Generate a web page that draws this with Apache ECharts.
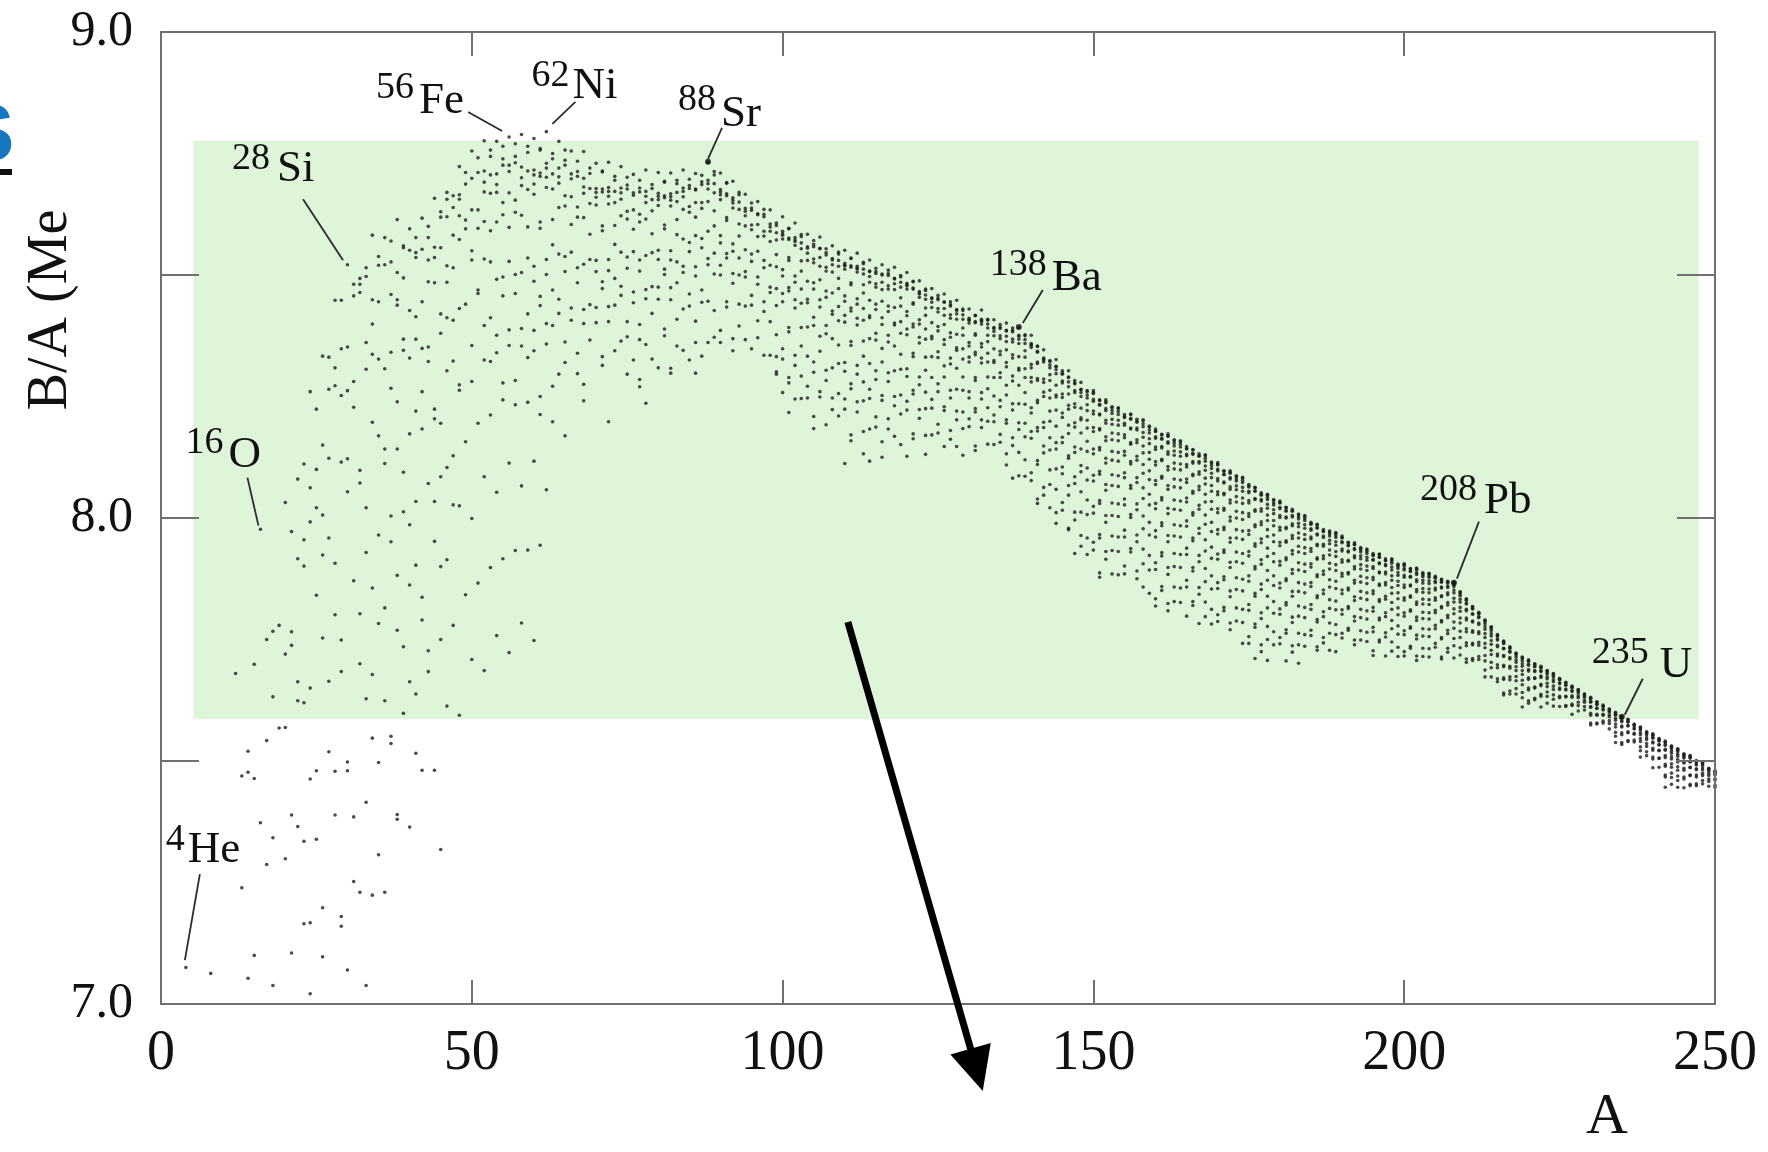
<!DOCTYPE html>
<html><head><meta charset="utf-8">
<script src="https://cdn.jsdelivr.net/npm/echarts@6/dist/echarts.min.js"></script>
<style>html,body{margin:0;padding:0;background:#fff}#c{width:1768px;height:1152px}</style>
</head><body><div id="c"></div>
<script>
// ---------- data (B/A in MeV per nucleon, A = mass number) ----------
const xTickValues=[0,50,100,150,200,250];
const yTickLabels=[7.0,8.0,9.0];
const lightNuclei=[[4,7.075],[8,7.063],[12,7.680],[13,7.469],[13,7.239],[14,7.520],[14,7.477],[14,7.053],[15,7.699],[15,7.464],[15,7.100],[16,7.977],[16,7.373],[17,7.750],[17,7.542],[17,7.287],[18,7.767],[18,7.632],[18,7.342],[18,7.038],[19,7.779],[19,7.568],[20,8.032],[20,7.720],[20,7.569],[20,7.299],[21,7.972],[21,7.766],[21,7.738],[21,7.389],[21,7.105],[22,8.080],[22,7.916],[22,7.663],[22,7.624],[22,7.365],[23,8.111],[23,7.955],[23,7.901],[23,7.620],[23,7.335],[23,7.165],[24,8.260],[24,8.062],[24,7.992],[24,7.650],[24,7.463],[24,7.167],[24,7.021],[25,8.224],[25,8.100],[25,8.021],[25,7.841],[25,7.480],[25,7.339],[26,8.333],[26,8.150],[26,8.006],[26,7.924],[26,7.753],[26,7.198],[26,7.097],[27,8.331],[27,8.265],[27,8.123],[27,7.959],[27,7.664],[27,7.519],[28,8.448],[28,8.309],[28,8.272],[28,7.907],[28,7.801],[28,7.479],[28,7.389],[29,8.448],[29,8.348],[29,8.252],[29,8.115],[29,7.749],[29,7.684],[29,7.180],[29,7.160],[30,8.521],[30,8.352],[30,8.262],[30,8.122],[30,8.054],[30,7.498],[30,7.480],[30,7.070],[31,8.481],[31,8.457],[31,8.281],[31,8.228],[31,7.871],[31,7.385],[31,7.252],[32,8.493],[32,8.481],[32,8.464],[32,8.098],[32,8.072],[32,7.803],[32,7.700],[32,7.230],[33,8.515],[33,8.497],[33,8.361],[33,8.306],[33,8.021],[33,7.929],[33,7.628],[33,7.415],[33,7.038],[34,8.582],[34,8.449],[34,8.399],[34,8.337],[34,8.197],[34,7.856],[34,7.678],[34,7.547],[34,7.224],[35,8.538],[35,8.520],[35,8.445],[35,8.327],[35,8.169],[35,7.965],[35,7.783],[35,7.497],[35,7.307],[36,8.577],[36,8.521],[36,8.307],[36,8.142],[36,8.112],[36,7.815],[36,7.624],[36,7.230],[37,8.570],[37,8.527],[37,8.460],[37,8.341],[37,8.267],[37,8.004],[37,7.951],[37,7.551],[37,7.536],[38,8.614],[38,8.505],[38,8.449],[38,8.438],[38,8.239],[38,8.142],[38,7.882],[38,7.769],[38,7.390],[38,7.380],[39,8.560],[39,8.556],[39,8.494],[39,8.368],[39,8.345],[39,8.094],[39,8.013],[39,7.735],[39,7.598],[40,8.595],[40,8.551],[40,8.427],[40,8.329],[40,8.173],[40,7.986],[40,7.862],[40,7.663],[40,7.364],[41,8.577],[41,8.546],[41,8.536],[41,8.414],[41,8.368],[41,8.220],[41,8.034],[41,7.903],[41,7.638],[41,7.516],[42,8.617],[42,8.553],[42,8.445],[42,8.349],[42,8.260],[42,8.183],[42,7.837],[42,7.790],[42,7.481],[43,8.600],[43,8.577],[43,8.531],[43,8.486],[43,8.352],[43,8.322],[43,8.071],[43,7.727],[43,7.684],[44,8.658],[44,8.557],[44,8.536],[44,8.484],[44,8.224],[44,8.204],[44,8.034],[44,7.952],[44,7.481],[45,8.630],[45,8.619],[45,8.556],[45,8.420],[45,8.380],[45,8.195],[45,8.085],[45,7.900],[45,7.750],[45,7.318],[46,8.670],[46,8.656],[46,8.620],[46,8.519],[46,8.485],[46,8.412],[46,8.303],[46,8.104],[46,7.914],[46,7.613],[47,8.663],[47,8.639],[47,8.582],[47,8.515],[47,8.407],[47,8.323],[47,8.128],[47,8.027],[47,7.779],[48,8.723],[48,8.665],[48,8.656],[48,8.622],[48,8.573],[48,8.431],[48,8.274],[48,8.263],[48,8.025],[48,7.594],[49,8.711],[49,8.687],[49,8.613],[49,8.595],[49,8.440],[49,8.157],[49,7.842],[50,8.755],[50,8.699],[50,8.634],[50,8.550],[50,8.531],[50,8.355],[50,8.281],[50,7.999],[50,7.709],[51,8.741],[51,8.711],[51,8.634],[51,8.596],[51,8.469],[51,8.462],[51,8.195],[51,7.866],[52,8.776],[52,8.714],[52,8.691],[52,8.671],[52,8.610],[52,8.533],[52,8.396],[52,8.325],[52,8.085],[52,7.686]];
const sparseMediumNuclei=[[53,8.212],[55,8.243],[57,8.233],[59,8.238],[61,8.213],[63,8.198],[65,8.169],[56,8.113],[60,8.117],[54,8.053],[58,8.066],[62,8.058],[53,7.898],[55,7.916],[57,7.933],[59,7.934],[61,7.944],[54,7.758],[56,7.723],[58,7.784],[60,7.748],[68,8.241],[72,8.198],[75,8.296],[77,8.285],[77,8.270],[78,8.236],[82,8.298],[86,8.298],[99,8.296],[99,8.301],[101,8.217]];
// each row: [A, B/A of the isobars read for that A ...]
const isobarsMedium=[
[53,8.757,8.744,8.706,8.668,8.591,8.527,8.412,8.322],
[54,8.775,8.708,8.670,8.686,8.609,8.491,8.376,8.340],
[55,8.765,8.739,8.726,8.649,8.624,8.496,8.457,8.278],
[56,8.784,8.726,8.669,8.713,8.598,8.528,8.355,8.387],
[57,8.770,8.744,8.731,8.654,8.629,8.501,8.462,8.283],
[58,8.789,8.722,8.684,8.700,8.623,8.505,8.390,8.354],
[59,8.765,8.752,8.714,8.676,8.599,8.535,8.420,8.330],
[60,8.781,8.716,8.706,8.687,8.666,8.518,8.487,8.386,8.344],
[61,8.760,8.757,8.710,8.703,8.609,8.596,8.456,8.437,8.250],
[62,8.795,8.730,8.720,8.701,8.680,8.532,8.501,8.400,8.358],
[63,8.750,8.739,8.708,8.677,8.614,8.562,8.469,8.396,8.271],
[64,8.775,8.720,8.689,8.702,8.639,8.543,8.450,8.421,8.296],
[65,8.757,8.736,8.726,8.663,8.642,8.538,8.507,8.362,8.320],
[66,8.755,8.708,8.661,8.698,8.604,8.547,8.407,8.432],
[67,8.734,8.713,8.703,8.640,8.619,8.515,8.484,8.339,8.297],
[68,8.754,8.699,8.668,8.681,8.618,8.522,8.429,8.400,8.275],
[69,8.720,8.709,8.678,8.647,8.584,8.532,8.439,8.366],
[70,8.730,8.678,8.670,8.660,8.644,8.530,8.507,8.433,8.402],
[71,8.714,8.712,8.677,8.671,8.601,8.591,8.486,8.472,8.332,8.314],
[72,8.732,8.680,8.672,8.662,8.646,8.532,8.509,8.435,8.404],
[73,8.703,8.695,8.672,8.649,8.602,8.563,8.493,8.438,8.344],
[74,8.723,8.679,8.656,8.669,8.622,8.547,8.477,8.458,8.364],
[75,8.701,8.685,8.677,8.631,8.615,8.537,8.514,8.404,8.373],
[76,8.707,8.669,8.634,8.664,8.594,8.548,8.443,8.465,8.325],
[77,8.695,8.679,8.671,8.625,8.609,8.531,8.508,8.398,8.367],
[78,8.716,8.672,8.649,8.662,8.615,8.540,8.470,8.451,8.357],
[79,8.686,8.678,8.655,8.632,8.585,8.546,8.476,8.421,8.327],
[80,8.711,8.668,8.662,8.655,8.643,8.551,8.532,8.475,8.450,8.309],
[81,8.693,8.691,8.663,8.659,8.603,8.595,8.512,8.501,8.389,8.375],
[82,8.710,8.667,8.661,8.654,8.642,8.550,8.531,8.474,8.449,8.308],
[83,8.695,8.688,8.670,8.651,8.614,8.583,8.527,8.484,8.409,8.354],
[84,8.716,8.679,8.661,8.672,8.635,8.574,8.518,8.505,8.430,8.345],
[85,8.697,8.684,8.678,8.641,8.629,8.567,8.548,8.461,8.436,8.325],
[86,8.709,8.677,8.649,8.675,8.619,8.581,8.498,8.517,8.405,8.361],
[87,8.705,8.692,8.686,8.649,8.637,8.575,8.556,8.469,8.444,8.333],
[88,8.732,8.695,8.677,8.688,8.651,8.590,8.534,8.521,8.446,8.361],
[89,8.713,8.706,8.688,8.669,8.632,8.601,8.545,8.502,8.427,8.372],
[90,8.710,8.676,8.671,8.665,8.655,8.581,8.566,8.520,8.500,8.386,8.361],
[91,8.690,8.689,8.667,8.663,8.618,8.612,8.544,8.535,8.445,8.434],
[92,8.693,8.659,8.654,8.648,8.638,8.564,8.549,8.503,8.483,8.369,8.344],
[93,8.670,8.665,8.650,8.635,8.605,8.580,8.535,8.500,8.440,8.395],
[94,8.666,8.637,8.622,8.631,8.601,8.552,8.507,8.496,8.436,8.367],
[95,8.648,8.638,8.633,8.603,8.593,8.543,8.528,8.458,8.438,8.348],
[96,8.651,8.626,8.604,8.624,8.579,8.549,8.481,8.496,8.406,8.371],
[97,8.635,8.625,8.620,8.590,8.580,8.530,8.515,8.445,8.425,8.335],
[98,8.634,8.605,8.590,8.599,8.569,8.520,8.475,8.464,8.404,8.335],
[99,8.607,8.602,8.587,8.572,8.542,8.517,8.472,8.437,8.377,8.332],
[100,8.620,8.590,8.585,8.582,8.574,8.511,8.498,8.462,8.445,8.348,8.327,8.258],
[101,8.596,8.595,8.576,8.573,8.536,8.530,8.474,8.467,8.392,8.383,8.289,8.278],
[102,8.607,8.577,8.572,8.569,8.561,8.498,8.485,8.449,8.432,8.335,8.314,8.245],
[103,8.583,8.579,8.566,8.554,8.529,8.508,8.471,8.442,8.392,8.354,8.292,8.246],
[104,8.584,8.558,8.545,8.555,8.530,8.487,8.450,8.443,8.393,8.333,8.271,8.247],
[105,8.571,8.563,8.558,8.533,8.525,8.484,8.471,8.413,8.396,8.321,8.300,8.209,8.184],
[106,8.578,8.555,8.536,8.554,8.518,8.490,8.434,8.449,8.374,8.343,8.249,8.260],
[107,8.554,8.546,8.541,8.516,8.508,8.467,8.454,8.396,8.379,8.304,8.283,8.192],
[108,8.560,8.534,8.521,8.531,8.506,8.463,8.426,8.419,8.369,8.309,8.247,8.223],
[109,8.547,8.543,8.530,8.518,8.493,8.472,8.435,8.406,8.356,8.318,8.256,8.210],
[110,8.551,8.524,8.520,8.519,8.512,8.457,8.446,8.417,8.403,8.320,8.302,8.245,8.224,8.112],
[111,8.535,8.534,8.519,8.516,8.484,8.480,8.432,8.426,8.363,8.355,8.276,8.266,8.171,8.159],
[112,8.545,8.518,8.514,8.513,8.506,8.451,8.440,8.411,8.397,8.314,8.296,8.239,8.218],
[113,8.526,8.523,8.512,8.502,8.480,8.463,8.431,8.407,8.364,8.333,8.280,8.241,8.178,8.132],
[114,8.531,8.508,8.497,8.507,8.485,8.448,8.416,8.412,8.369,8.318,8.265,8.246,8.183,8.117],
[115,8.514,8.507,8.503,8.482,8.475,8.440,8.429,8.380,8.366,8.303,8.285,8.208,8.187],
[116,8.521,8.500,8.485,8.502,8.470,8.446,8.398,8.412,8.349,8.321,8.242,8.252,8.157,8.125],
[117,8.510,8.503,8.499,8.478,8.471,8.436,8.425,8.376,8.362,8.299,8.281,8.204,8.183],
[118,8.516,8.493,8.482,8.492,8.470,8.433,8.401,8.397,8.354,8.303,8.250,8.231,8.168],
[119,8.499,8.496,8.485,8.475,8.453,8.436,8.404,8.380,8.337,8.306,8.253,8.214,8.151],
[120,8.505,8.483,8.480,8.478,8.471,8.425,8.416,8.389,8.377,8.307,8.291,8.240,8.222,8.127],
[121,8.487,8.486,8.473,8.471,8.443,8.440,8.399,8.393,8.339,8.332,8.263,8.255,8.173,8.163],
[122,8.488,8.466,8.463,8.461,8.454,8.408,8.399,8.372,8.360,8.290,8.274,8.223,8.205],
[123,8.471,8.468,8.459,8.450,8.432,8.417,8.389,8.368,8.331,8.304,8.259,8.225,8.170,8.131],
[124,8.472,8.453,8.444,8.451,8.433,8.402,8.374,8.369,8.332,8.289,8.244,8.226,8.171],
[125,8.458,8.452,8.449,8.431,8.424,8.394,8.385,8.342,8.330,8.276,8.260,8.193,8.175],
[126,8.461,8.445,8.431,8.444,8.417,8.398,8.357,8.367,8.313,8.290,8.221,8.229,8.147],
[127,8.445,8.439,8.436,8.418,8.411,8.381,8.372,8.329,8.317,8.263,8.247,8.180,8.162],
[128,8.448,8.429,8.420,8.427,8.409,8.378,8.350,8.345,8.308,8.265,8.220,8.202,8.147],
[129,8.430,8.427,8.418,8.409,8.391,8.376,8.348,8.327,8.290,8.263,8.218,8.184,8.129]];
const isobarsHeavy=[
[130,8.430,8.411,8.408,8.407,8.401,8.361,8.354,8.331,8.321,8.260,8.247,8.204,8.188],
[131,8.417,8.416,8.404,8.402,8.379,8.376,8.341,8.336,8.289,8.283,8.225,8.218,8.148,8.139],
[132,8.428,8.409,8.406,8.405,8.399,8.359,8.352,8.329,8.319,8.258,8.245,8.202,8.186],
[133,8.409,8.407,8.399,8.391,8.376,8.363,8.339,8.321,8.290,8.266,8.227,8.199,8.152],
[134,8.408,8.392,8.384,8.390,8.375,8.348,8.324,8.320,8.289,8.251,8.212,8.198,8.151],
[135,8.398,8.393,8.390,8.375,8.369,8.343,8.336,8.299,8.289,8.242,8.229,8.172,8.156],
[136,8.401,8.386,8.374,8.385,8.363,8.346,8.311,8.320,8.273,8.253,8.195,8.202,8.132,8.109],
[137,8.391,8.386,8.383,8.368,8.362,8.336,8.329,8.292,8.282,8.235,8.222,8.165,8.149,8.082],
[138,8.392,8.376,8.368,8.374,8.359,8.332,8.308,8.304,8.273,8.235,8.196,8.182,8.135,8.087],
[139,8.377,8.375,8.367,8.359,8.344,8.331,8.307,8.289,8.258,8.234,8.195,8.167,8.120,8.086],
[140,8.376,8.359,8.357,8.355,8.351,8.316,8.309,8.289,8.280,8.227,8.216,8.178,8.164,8.093,8.077],
[141,8.354,8.353,8.343,8.341,8.321,8.318,8.287,8.283,8.242,8.237,8.186,8.179,8.118,8.110,8.039,8.030],
[142,8.346,8.329,8.327,8.325,8.321,8.286,8.279,8.259,8.250,8.197,8.186,8.148,8.134,8.063,8.047],
[143,8.324,8.322,8.315,8.309,8.295,8.283,8.263,8.247,8.220,8.199,8.165,8.140,8.099,8.069,8.021],
[144,8.326,8.312,8.305,8.311,8.297,8.273,8.253,8.249,8.222,8.189,8.155,8.142,8.101,8.059,8.011,7.989],
[145,8.303,8.298,8.296,8.282,8.278,8.255,8.248,8.216,8.207,8.166,8.155,8.105,8.091,8.032,8.016],
[146,8.303,8.290,8.280,8.289,8.270,8.255,8.224,8.232,8.191,8.174,8.123,8.128,8.067,8.047,7.976,7.979],
[147,8.283,8.278,8.276,8.262,8.258,8.235,8.228,8.196,8.187,8.146,8.135,8.085,8.071,8.012,7.996,7.927],
[148,8.279,8.265,8.258,8.264,8.250,8.226,8.206,8.202,8.175,8.142,8.108,8.095,8.054,8.012,7.964,7.942],
[149,8.262,8.260,8.253,8.247,8.233,8.221,8.201,8.185,8.158,8.137,8.103,8.078,8.037,8.007,7.959,7.925],
[150,8.262,8.258,8.256,8.244,8.240,8.220,8.214,8.186,8.178,8.142,8.132,8.088,8.076,8.024,8.010,7.950,7.934],
[151,8.243,8.242,8.234,8.232,8.214,8.212,8.184,8.181,8.145,8.140,8.096,8.090,8.036,8.030,7.966,7.959,7.887,7.878],
[152,8.243,8.239,8.237,8.225,8.221,8.201,8.195,8.167,8.159,8.123,8.113,8.069,8.057,8.005,7.991,7.931,7.915],
[153,8.229,8.227,8.221,8.215,8.203,8.193,8.175,8.161,8.137,8.119,8.089,8.067,8.031,8.005,7.963,7.933,7.885],
[154,8.227,8.225,8.219,8.213,8.201,8.191,8.173,8.159,8.135,8.117,8.087,8.065,8.029,8.003,7.961,7.931,7.883],
[155,8.213,8.209,8.207,8.195,8.191,8.171,8.165,8.137,8.129,8.093,8.083,8.039,8.027,7.975,7.961,7.901,7.885],
[156,8.214,8.213,8.205,8.203,8.185,8.183,8.155,8.152,8.116,8.111,8.067,8.061,8.007,8.001,7.937,7.930],
[157,8.203,8.199,8.197,8.185,8.181,8.161,8.155,8.127,8.119,8.083,8.073,8.029,8.017,7.965,7.951,7.891,7.875],
[158,8.202,8.200,8.194,8.188,8.176,8.166,8.148,8.134,8.110,8.092,8.062,8.040,8.004,7.978,7.936,7.906,7.858],
[159,8.189,8.187,8.181,8.175,8.163,8.153,8.135,8.121,8.097,8.079,8.049,8.027,7.991,7.965,7.923,7.893,7.845],
[160,8.183,8.179,8.178,8.167,8.164,8.146,8.141,8.116,8.109,8.077,8.069,8.030,8.019,7.974,7.961,7.908,7.894,7.834,7.819],
[161,8.172,8.171,8.164,8.162,8.147,8.144,8.121,8.118,8.086,8.082,8.042,8.037,7.990,7.984,7.929,7.922,7.859,7.851],
[162,8.173,8.169,8.168,8.157,8.154,8.136,8.131,8.106,8.099,8.067,8.059,8.020,8.009,7.964,7.951,7.898,7.884,7.824,7.809],
[163,8.161,8.159,8.154,8.148,8.138,8.129,8.113,8.101,8.080,8.064,8.037,8.018,7.986,7.963,7.927,7.900,7.858,7.828],
[164,8.159,8.157,8.152,8.146,8.136,8.127,8.111,8.099,8.078,8.062,8.035,8.016,7.984,7.961,7.925,7.898,7.856,7.826],
[165,8.147,8.143,8.142,8.131,8.128,8.110,8.105,8.080,8.073,8.041,8.033,7.994,7.983,7.938,7.925,7.872,7.858,7.798],
[166,8.141,8.140,8.133,8.131,8.116,8.113,8.090,8.087,8.055,8.051,8.011,8.006,7.959,7.953,7.898,7.891,7.828,7.820],
[167,8.132,8.128,8.127,8.116,8.113,8.095,8.090,8.065,8.058,8.026,8.018,7.979,7.968,7.923,7.910,7.857,7.843,7.783],
[168,8.130,8.128,8.123,8.117,8.107,8.098,8.082,8.070,8.049,8.033,8.006,7.987,7.955,7.932,7.896,7.869,7.827,7.797],
[169,8.115,8.113,8.108,8.102,8.092,8.083,8.067,8.055,8.034,8.018,7.991,7.972,7.940,7.917,7.881,7.854,7.812,7.782],
[170,8.114,8.111,8.109,8.100,8.097,8.081,8.076,8.054,8.048,8.019,8.011,7.976,7.967,7.926,7.915,7.867,7.855,7.801,7.787],
[171,8.097,8.096,8.090,8.089,8.074,8.072,8.051,8.048,8.020,8.016,7.981,7.976,7.934,7.929,7.879,7.873,7.816,7.809],
[172,8.097,8.094,8.092,8.083,8.080,8.064,8.059,8.037,8.031,8.002,7.994,7.959,7.950,7.909,7.898,7.850,7.838,7.784,7.770],
[173,8.087,8.085,8.080,8.076,8.066,8.058,8.044,8.033,8.014,8.000,7.976,7.959,7.930,7.910,7.877,7.853,7.815,7.788],
[174,8.084,8.082,8.077,8.073,8.063,8.055,8.041,8.030,8.011,7.997,7.973,7.956,7.927,7.907,7.874,7.850,7.812,7.785,7.742],
[175,8.069,8.066,8.064,8.055,8.052,8.036,8.031,8.009,8.003,7.974,7.966,7.931,7.922,7.881,7.870,7.822,7.810,7.756,7.742],
[176,8.063,8.062,8.056,8.055,8.040,8.038,8.017,8.014,7.986,7.982,7.947,7.942,7.900,7.895,7.845,7.839,7.782,7.775,7.711],
[177,8.052,8.049,8.047,8.038,8.035,8.019,8.014,7.992,7.986,7.957,7.949,7.914,7.905,7.864,7.853,7.805,7.793,7.739,7.725],
[178,8.049,8.047,8.042,8.038,8.028,8.020,8.006,7.995,7.976,7.962,7.938,7.921,7.892,7.872,7.839,7.815,7.777,7.750,7.707],
[179,8.038,8.036,8.031,8.027,8.017,8.009,7.995,7.984,7.965,7.951,7.927,7.910,7.881,7.861,7.828,7.804,7.766,7.739],
[180,8.035,8.032,8.031,8.022,8.019,8.005,8.001,7.981,7.975,7.950,7.943,7.911,7.903,7.866,7.856,7.813,7.802,7.754,7.741],
[181,8.022,8.021,8.016,8.014,8.002,8.000,7.981,7.978,7.953,7.950,7.918,7.914,7.875,7.871,7.826,7.821,7.770,7.763,7.706],
[182,8.018,8.015,8.014,8.005,8.002,7.988,7.984,7.964,7.958,7.933,7.926,7.894,7.886,7.849,7.839,7.796,7.785,7.737,7.724],
[183,8.008,8.006,8.002,7.998,7.989,7.982,7.969,7.959,7.942,7.930,7.908,7.893,7.867,7.849,7.819,7.798,7.763,7.739,7.701],
[184,8.005,8.003,7.999,7.995,7.986,7.979,7.966,7.956,7.939,7.927,7.905,7.890,7.864,7.846,7.816,7.795,7.760,7.736],
[185,7.991,7.988,7.987,7.978,7.975,7.961,7.957,7.937,7.931,7.906,7.899,7.867,7.859,7.822,7.812,7.769,7.758],
[186,7.987,7.986,7.981,7.979,7.967,7.965,7.946,7.943,7.918,7.915,7.883,7.879,7.840,7.836,7.791,7.786,7.735,7.728],
[187,7.976,7.973,7.972,7.963,7.960,7.946,7.942,7.922,7.916,7.891,7.884,7.852,7.844,7.807,7.797,7.754,7.743],
[188,7.973,7.971,7.967,7.963,7.954,7.947,7.934,7.924,7.907,7.895,7.873,7.858,7.832,7.814,7.784,7.763,7.728],
[189,7.970,7.968,7.964,7.960,7.951,7.944,7.931,7.921,7.904,7.892,7.870,7.855,7.829,7.811,7.781,7.760,7.725],
[190,7.963,7.960,7.959,7.951,7.949,7.936,7.932,7.914,7.909,7.886,7.880,7.852,7.844,7.811,7.802,7.763,7.753],
[191,7.950,7.949,7.944,7.943,7.932,7.930,7.913,7.911,7.888,7.885,7.856,7.852,7.818,7.814,7.773,7.769],
[192,7.949,7.946,7.945,7.937,7.935,7.922,7.918,7.900,7.895,7.872,7.866,7.838,7.830,7.797,7.788,7.749,7.739],
[193,7.939,7.937,7.934,7.930,7.922,7.916,7.904,7.895,7.880,7.868,7.849,7.835,7.812,7.795,7.768,7.749],
[194,7.936,7.934,7.931,7.927,7.919,7.913,7.901,7.892,7.877,7.865,7.846,7.832,7.809,7.792,7.765,7.746],
[195,7.927,7.924,7.923,7.915,7.913,7.900,7.896,7.878,7.873,7.850,7.844,7.816,7.808,7.775,7.766,7.727,7.717],
[196,7.926,7.925,7.920,7.919,7.908,7.906,7.889,7.887,7.864,7.861,7.832,7.828,7.794,7.790,7.749,7.745],
[197,7.916,7.913,7.912,7.904,7.902,7.889,7.885,7.867,7.862,7.839,7.833,7.805,7.797,7.764,7.755,7.716],
[198,7.916,7.914,7.911,7.907,7.899,7.893,7.881,7.872,7.857,7.845,7.826,7.812,7.789,7.772,7.745,7.726],
[199,7.905,7.903,7.900,7.896,7.888,7.882,7.870,7.861,7.846,7.834,7.815,7.801,7.778,7.761,7.734,7.715],
[200,7.906,7.904,7.902,7.896,7.893,7.882,7.878,7.862,7.857,7.836,7.831,7.805,7.798,7.768,7.760,7.725,7.716],
[201,7.896,7.895,7.891,7.890,7.880,7.878,7.862,7.860,7.840,7.837,7.811,7.808,7.776,7.773,7.736,7.732],
[202,7.897,7.895,7.893,7.887,7.884,7.873,7.869,7.853,7.848,7.827,7.822,7.796,7.789,7.759,7.751,7.716,7.707],
[203,7.887,7.886,7.882,7.879,7.872,7.866,7.855,7.847,7.833,7.823,7.806,7.793,7.772,7.757,7.732,7.715],
[204,7.886,7.885,7.881,7.878,7.871,7.865,7.854,7.846,7.832,7.822,7.805,7.792,7.771,7.756,7.731,7.714],
[205,7.880,7.878,7.876,7.870,7.867,7.856,7.852,7.836,7.831,7.810,7.805,7.779,7.772,7.742,7.734],
[206,7.874,7.873,7.869,7.868,7.858,7.856,7.840,7.838,7.818,7.815,7.789,7.786,7.754,7.751,7.714,7.710],
[207,7.870,7.868,7.866,7.860,7.857,7.846,7.842,7.826,7.821,7.800,7.795,7.769,7.762,7.732,7.724],
[208,7.867,7.866,7.862,7.859,7.852,7.846,7.835,7.827,7.813,7.803,7.786,7.773,7.752,7.737,7.712],
[209,7.848,7.847,7.843,7.840,7.833,7.827,7.816,7.808,7.794,7.784,7.767,7.754,7.733,7.718],
[210,7.834,7.832,7.831,7.825,7.823,7.812,7.809,7.794,7.790,7.772,7.766,7.743,7.737,7.710,7.703],
[211,7.818,7.817,7.814,7.813,7.803,7.802,7.788,7.786,7.768,7.765,7.742,7.739,7.711,7.707],
[212,7.806,7.804,7.803,7.797,7.795,7.784,7.781,7.766,7.762,7.744,7.738,7.715,7.709],
[213,7.790,7.789,7.786,7.782,7.776,7.771,7.762,7.754,7.742,7.733,7.717,7.706,7.687,7.673],
[214,7.776,7.775,7.772,7.768,7.762,7.757,7.748,7.740,7.728,7.719,7.703,7.692,7.673],
[215,7.760,7.758,7.757,7.751,7.749,7.738,7.735,7.720,7.716,7.698,7.692,7.669,7.663],
[216,7.747,7.746,7.743,7.742,7.732,7.731,7.717,7.715,7.697,7.694,7.671,7.668,7.640,7.636],
[217,7.735,7.733,7.732,7.726,7.724,7.713,7.710,7.695,7.691,7.673,7.667,7.644,7.638],
[218,7.722,7.721,7.718,7.714,7.708,7.703,7.694,7.686,7.674,7.665,7.649,7.638],
[219,7.714,7.713,7.710,7.706,7.700,7.695,7.686,7.678,7.666,7.657,7.641,7.630,7.611],
[220,7.708,7.706,7.705,7.699,7.697,7.688,7.685,7.671,7.668,7.650,7.646,7.624,7.619],
[221,7.700,7.699,7.695,7.694,7.686,7.684,7.671,7.670,7.652,7.650,7.629,7.626],
[222,7.695,7.693,7.692,7.686,7.684,7.675,7.672,7.658,7.655,7.637,7.633,7.611],
[223,7.686,7.685,7.682,7.679,7.673,7.669,7.660,7.653,7.642,7.633,7.619],
[224,7.680,7.679,7.676,7.673,7.667,7.663,7.654,7.647,7.636,7.627,7.613],
[225,7.670,7.668,7.667,7.661,7.659,7.650,7.647,7.633,7.630,7.612],
[226,7.662,7.661,7.657,7.656,7.648,7.646,7.633,7.632,7.614,7.612],
[227,7.654,7.652,7.651,7.645,7.643,7.634,7.631,7.617,7.614,7.596],
[228,7.647,7.646,7.643,7.640,7.634,7.630,7.621,7.614,7.603],
[229,7.638,7.637,7.634,7.631,7.625,7.621,7.612,7.605],
[230,7.631,7.629,7.628,7.623,7.621,7.612,7.610,7.598,7.594,7.578,7.574],
[231,7.622,7.621,7.617,7.616,7.609,7.608,7.596,7.594,7.578,7.576],
[232,7.615,7.613,7.612,7.607,7.605,7.596,7.594,7.582,7.578],
[233,7.607,7.606,7.603,7.601,7.595,7.591,7.583,7.577,7.566],
[234,7.600,7.599,7.596,7.594,7.588,7.584,7.576,7.570,7.559,7.551,7.538],
[235,7.591,7.589,7.588,7.583,7.581,7.572,7.570,7.558,7.554,7.538,7.534],
[236,7.586,7.585,7.581,7.580,7.573,7.572,7.560,7.558,7.542,7.540],
[237,7.576,7.574,7.573,7.568,7.566,7.557,7.555,7.543,7.539],
[238,7.570,7.569,7.566,7.564,7.558,7.554,7.546,7.540,7.529,7.521,7.508],
[239,7.560,7.559,7.556,7.554,7.548,7.544,7.536,7.530,7.519,7.511],
[240,7.556,7.554,7.553,7.549,7.547,7.539,7.537,7.526,7.522,7.508,7.504,7.486],
[241,7.546,7.545,7.542,7.541,7.534,7.533,7.522,7.521,7.506,7.505,7.487],
[242,7.541,7.539,7.538,7.534,7.532,7.524,7.522,7.511,7.507,7.493,7.489,7.471,7.467,7.446],
[243,7.531,7.530,7.528,7.525,7.520,7.516,7.509,7.504,7.494,7.487,7.475,7.466,7.452],
[244,7.525,7.524,7.522,7.519,7.514,7.510,7.503,7.498,7.488,7.481,7.469,7.460,7.446],
[245,7.515,7.513,7.512,7.508,7.506,7.498,7.496,7.485,7.481,7.467,7.463,7.445],
[246,7.511,7.510,7.507,7.506,7.499,7.498,7.487,7.486,7.471,7.470,7.452,7.449],
[247,7.501,7.499,7.498,7.494,7.492,7.484,7.482,7.471,7.467,7.453,7.449],
[248,7.497,7.496,7.494,7.491,7.486,7.482,7.475,7.470,7.460,7.453],
[249,7.485,7.484,7.482,7.479,7.474,7.470,7.463,7.458,7.448],
[250,7.480,7.478,7.477,7.473,7.471,7.463,7.461,7.450,7.446]];
const labeledNuclei=[
 {mass:'4',symbol:'He',A:4,BA:7.074,mark:false},
 {mass:'16',symbol:'O',A:16,BA:7.976,mark:false},
 {mass:'28',symbol:'Si',A:28,BA:8.448,mark:false},
 {mass:'56',symbol:'Fe',A:56,BA:8.790,mark:false},
 {mass:'62',symbol:'Ni',A:62,BA:8.7945,mark:false},
 {mass:'88',symbol:'Sr',A:88,BA:8.733,mark:true},
 {mass:'138',symbol:'Ba',A:138,BA:8.393,mark:true},
 {mass:'208',symbol:'Pb',A:208,BA:7.867,mark:true},
 {mass:'235',symbol:'U',A:235,BA:7.591,mark:true}];
const bandRange={Amin:5.2,Amax:247.4,BAmin:7.586,BAmax:8.776};
const arrowFrom=[110.5,7.786], arrowTo=[132.2,6.821];

// ---------- layout (pixel offsets from each labelled point) ----------
const labelOffsets=[
 {sup:[-1,-128],el:[2,-118],line:[14,-94,-1,-8]},
 {sup:[-37,-87],el:[-32,-74],line:[-13,-52,-2,-4]},
 {sup:[-65,-141],el:[-58,-131],line:[-32,-101,8,-40]},
 {sup:[-95,-46],el:[-90,-33],line:[-41,-22,-7,-3]},
 {sup:[23,-56],el:[26,-46],line:[29,-30,6,-8]},
 {sup:[8,-62],el:[13,-48],line:[14,-34,0,-3]},
 {sup:[28,-62],el:[33,-49],line:[24,-37,4,-4]},
 {sup:[23,-93],el:[30,-81],line:[25,-61,3,-4]},
 {sup:[27,-64],el:[38,-52],line:[21,-38,3,-2]}];

const points=[];
lightNuclei.forEach(p=>points.push(p));
sparseMediumNuclei.forEach(p=>points.push(p));
[isobarsMedium,isobarsHeavy].forEach(cols=>cols.forEach(row=>{for(let i=1;i<row.length;i++)points.push([row[0],row[i]]);}));

const FONT='"Liberation Serif","Times New Roman",serif';
const AX='#707070';
const chart=echarts.init(document.getElementById('c'),null,{renderer:'canvas'});
function axisBase(extra){return Object.assign({type:'value',z:10,splitLine:{show:false},
  axisLine:{show:true,onZero:false,lineStyle:{color:AX,width:2}}},extra);}
const option={
 animation:false,
 backgroundColor:'#ffffff',
 grid:{left:161,right:53,top:32,bottom:148,containLabel:false,outerBoundsMode:'none'},
 xAxis:[
  axisBase({min:0,max:250,interval:50,position:'bottom',
   axisTick:{show:true,inside:true,length:24,lineStyle:{color:AX,width:2}},
   axisLabel:{show:true,margin:22,fontSize:56,fontFamily:FONT,color:'#111',
     formatter:v=>xTickValues.indexOf(v)>=0?String(v):''}}),
  axisBase({min:0,max:250,interval:50,position:'top',
   axisTick:{show:true,inside:true,length:24,lineStyle:{color:AX,width:2}},
   axisLabel:{show:false}})],
 yAxis:[
  axisBase({min:7,max:9,interval:0.5,position:'left',
   axisTick:{show:true,inside:true,length:38,lineStyle:{color:AX,width:2}},
   axisLabel:{show:true,margin:28,fontSize:50,fontFamily:FONT,color:'#111',
     formatter:v=>yTickLabels.indexOf(v)>=0?v.toFixed(1):''}}),
  axisBase({min:7,max:9,interval:0.5,position:'right',
   axisTick:{show:true,inside:true,length:38,lineStyle:{color:AX,width:2}},
   axisLabel:{show:false}})],
 series:[
  {type:'scatter',data:[],z:1,silent:true,
   markArea:{silent:true,itemStyle:{color:'#dff5d9'},
    data:[[{coord:[bandRange.Amin,bandRange.BAmax]},{coord:[bandRange.Amax,bandRange.BAmin]}]]}},
  {type:'scatter',data:points,z:3,silent:true,symbol:'circle',symbolSize:3.6,
   progressive:0,itemStyle:{color:'#1d1f1d'}},
  {type:'scatter',z:4,silent:true,symbol:'circle',symbolSize:6,itemStyle:{color:'#111'},
   data:labeledNuclei.filter(n=>n.mark).map(n=>[n.A,n.BA])}
 ]
};
chart.setOption(option);

function px(a,b){return chart.convertToPixel({gridIndex:0},[a,b]);}
function txt(x,y,s,size,align,extra){
  return Object.assign({type:'text',z:50,x:x,y:y,style:{text:s,fill:'#111',textFill:'#111',
    font:size+'px '+FONT,fontSize:size,fontFamily:FONT,
    align:align,textAlign:align,verticalAlign:'middle',textVerticalAlign:'middle'}},extra||{});
}
const g=[];
labeledNuclei.forEach((n,i)=>{
  const p=px(n.A,n.BA), L=labelOffsets[i];
  g.push({type:'line',z:50,shape:{x1:p[0]+L.line[0],y1:p[1]+L.line[1],x2:p[0]+L.line[2],y2:p[1]+L.line[3]},
    style:{stroke:'#2b2b2b',lineWidth:1.8}});
  g.push(txt(p[0]+L.sup[0],p[1]+L.sup[1],n.mass,38,'right'));
  g.push(txt(p[0]+L.el[0],p[1]+L.el[1],n.symbol,45,'left'));
});
// arrow
const a=px(arrowFrom[0],arrowFrom[1]), b=px(arrowTo[0],arrowTo[1]);
const dx=b[0]-a[0], dy=b[1]-a[1], len=Math.hypot(dx,dy), ux=dx/len, uy=dy/len;
const head=44, hw=21, bx=b[0]-ux*head, by=b[1]-uy*head;
g.push({type:'line',z:60,shape:{x1:a[0],y1:a[1],x2:bx+ux*6,y2:by+uy*6},style:{stroke:'#000',lineWidth:7}});
g.push({type:'polygon',z:60,shape:{points:[[b[0],b[1]],[bx-uy*hw,by+ux*hw],[bx+uy*hw,by-ux*hw]]},style:{fill:'#000'}});
// axis titles
g.push(txt(51,310,'B/A (Me',56,'center',{rotation:Math.PI/2}));
g.push(txt(1607,1118,'A',58,'center'));
// clipped slide fragment at the top-left corner
g.push({type:'text',z:50,x:-39,y:138,style:{text:'S',fill:'#1677c0',textFill:'#1677c0',
  font:'bold 80px "Liberation Sans",Arial,sans-serif',align:'left',textAlign:'left',
  verticalAlign:'middle',textVerticalAlign:'middle'}});
g.push({type:'rect',z:50,shape:{x:0,y:169,width:12,height:6},style:{fill:'#111'}});
chart.setOption({graphic:{elements:g}});
</script>
</body></html>
